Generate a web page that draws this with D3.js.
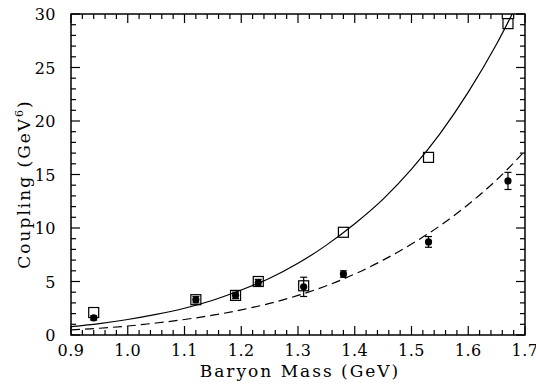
<!DOCTYPE html>
<meta charset="utf-8">
<style>
body { margin: 0; background: #fff; }
svg text { font-family: "DejaVu Serif", serif; fill: #000; }
.tick-label { font-size: 16px; letter-spacing: 0.5px; }
.axis-title { font-size: 17px; letter-spacing: 2px; }
</style>
<svg id="chart" width="536" height="390"></svg>
<script src="https://d3js.org/d3.v7.min.js"></script>
<script>

// baryon masses (GeV)
var masses = [0.94, 1.12, 1.19, 1.23, 1.31, 1.38, 1.53, 1.67];
// open squares
var squareVals = [2.1, 3.3, 3.7, 5.0, 4.6, 9.6, 16.6, 29.1];
// filled circles with errors
var circleVals = [1.6, 3.3, 3.7, 4.9, 4.5, 5.7, 8.7, 14.4];
var circleErrs = [0.2, 0.3, 0.3, 0.3, 0.9, 0.3, 0.5, 0.8];

// curves
var curveX = [0.9, 0.95, 1.0, 1.05, 1.1, 1.15, 1.2, 1.25, 1.3, 1.35, 1.4, 1.45, 1.5, 1.55, 1.6, 1.65, 1.7];
var solidY = [0.78, 1.07, 1.45, 1.92, 2.5, 3.25, 4.2, 5.3, 6.7, 8.4, 10.4, 12.7, 15.5, 18.8, 22.7, 27.2, 32.4];
var dashedY = [0.47, 0.63, 0.84, 1.12, 1.45, 1.85, 2.35, 2.95, 3.7, 4.6, 5.7, 7.0, 8.5, 10.2, 12.2, 14.5, 17.2];

var xTicks = [0.9, 1.0, 1.1, 1.2, 1.3, 1.4, 1.5, 1.6, 1.7];
var yTicks = [0, 5, 10, 15, 20, 25, 30];

var svg = d3.select("#chart");
var plotL = 71, plotR = 525, plotT = 14, plotB = 335;

var x = d3.scaleLinear().domain([0.9, 1.7]).range([plotL, plotR]);
var y = d3.scaleLinear().domain([0, 30]).range([plotB, plotT]);

svg.append("defs").append("clipPath").attr("id", "clip")
  .append("rect").attr("x", plotL).attr("y", plotT)
  .attr("width", plotR - plotL).attr("height", plotB - plotT);

// frame
svg.append("rect").attr("x", plotL).attr("y", plotT)
  .attr("width", plotR - plotL).attr("height", plotB - plotT)
  .attr("fill", "none").attr("stroke", "#000").attr("stroke-width", 1.5);

// ticks on all four sides, pointing inward
var xMinor = d3.range(0, 41).map(function(i) { return 0.9 + i * 0.02; });
var yMinor = d3.range(0, 31);

var tickG = svg.append("g").attr("stroke", "#000").attr("stroke-width", 1.2);
xMinor.forEach(function(v, i) {
  var len = (i % 5 === 0) ? 9 : 5;
  var px = x(v);
  tickG.append("line").attr("x1", px).attr("x2", px).attr("y1", plotB).attr("y2", plotB - len);
  tickG.append("line").attr("x1", px).attr("x2", px).attr("y1", plotT).attr("y2", plotT + len);
});
yMinor.forEach(function(v) {
  var len = (v % 5 === 0) ? 9 : 5;
  var py = y(v);
  tickG.append("line").attr("x1", plotL).attr("x2", plotL + len).attr("y1", py).attr("y2", py);
  tickG.append("line").attr("x1", plotR).attr("x2", plotR - len).attr("y1", py).attr("y2", py);
});

// tick labels
svg.append("g").selectAll("text").data(xTicks).enter().append("text")
  .attr("class", "tick-label")
  .attr("x", function(d) { return x(d); })
  .attr("y", 356)
  .attr("text-anchor", "middle")
  .text(function(d) { return d3.format(".1f")(d); });

svg.append("g").selectAll("text").data(yTicks).enter().append("text")
  .attr("class", "tick-label")
  .attr("x", 56)
  .attr("y", function(d) { return y(d) + 6; })
  .attr("text-anchor", "end")
  .text(function(d) { return d; });

// axis titles
svg.append("text").attr("class", "axis-title")
  .attr("x", 300).attr("y", 377)
  .attr("text-anchor", "middle")
  .text("Baryon Mass (GeV)");

var yt = svg.append("text").attr("class", "axis-title")
  .attr("transform", "translate(30,184) rotate(-90)")
  .attr("text-anchor", "middle");
yt.append("tspan").text("Coupling (GeV");
yt.append("tspan").attr("dy", -7).attr("font-size", "11px").text("6");
yt.append("tspan").attr("dy", 7).text(")");

// curves
var line = d3.line().curve(d3.curveMonotoneX)
  .x(function(d) { return x(d[0]); })
  .y(function(d) { return y(d[1]); });

var plot = svg.append("g").attr("clip-path", "url(#clip)");

plot.append("path")
  .datum(d3.zip(curveX, solidY))
  .attr("d", line)
  .attr("fill", "none").attr("stroke", "#000").attr("stroke-width", 1.2);

plot.append("path")
  .datum(d3.zip(curveX, dashedY))
  .attr("d", line)
  .attr("fill", "none").attr("stroke", "#000").attr("stroke-width", 1.2)
  .attr("stroke-dasharray", "9,5");

// error bars for filled circles
var errG = svg.append("g").attr("stroke", "#000").attr("stroke-width", 1.2);
masses.forEach(function(m, i) {
  var px = x(m), y1 = y(circleVals[i] - circleErrs[i]), y2 = y(circleVals[i] + circleErrs[i]);
  errG.append("line").attr("x1", px).attr("x2", px).attr("y1", y1).attr("y2", y2);
  errG.append("line").attr("x1", px - 3.5).attr("x2", px + 3.5).attr("y1", y1).attr("y2", y1);
  errG.append("line").attr("x1", px - 3.5).attr("x2", px + 3.5).attr("y1", y2).attr("y2", y2);
});

// open squares
svg.append("g").selectAll("rect").data(masses).enter().append("rect")
  .attr("x", function(d) { return x(d) - 5; })
  .attr("y", function(d, i) { return y(squareVals[i]) - 5; })
  .attr("width", 10).attr("height", 10)
  .attr("fill", "none").attr("stroke", "#000").attr("stroke-width", 1.2);

// filled circles
svg.append("g").selectAll("circle").data(masses).enter().append("circle")
  .attr("cx", function(d) { return x(d); })
  .attr("cy", function(d, i) { return y(circleVals[i]); })
  .attr("r", 3.6)
  .attr("fill", "#000");

</script>
